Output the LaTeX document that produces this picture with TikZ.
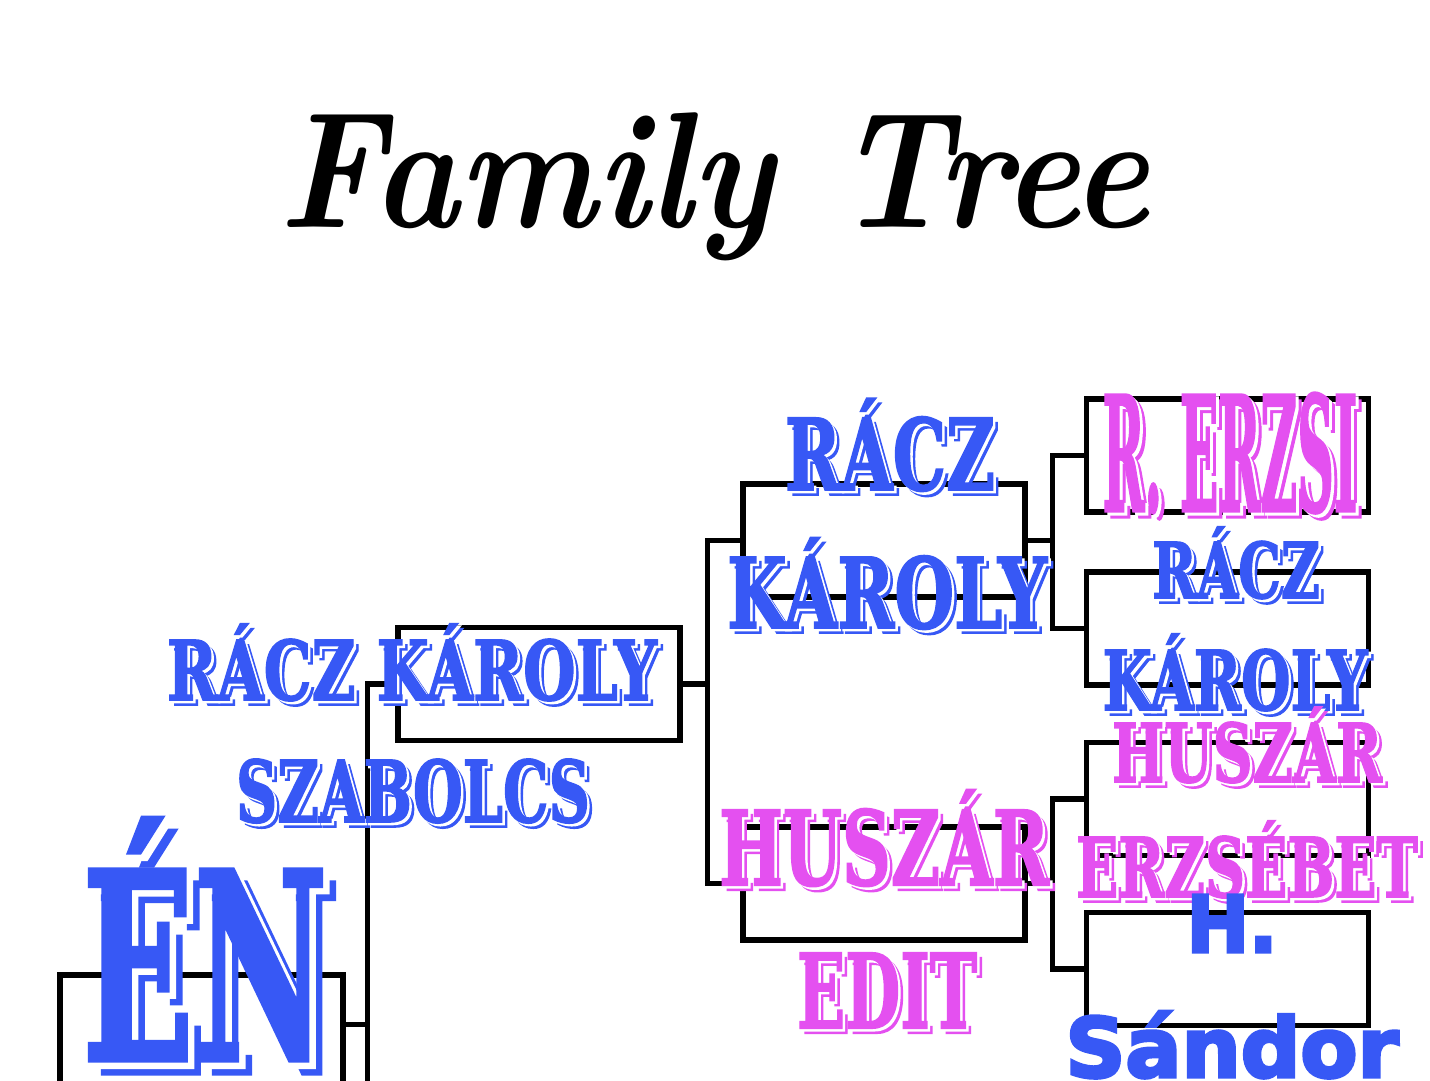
\documentclass[tikz,border=0pt]{standalone}
\usepackage{fontspec}
\usepackage{graphicx}
\usetikzlibrary{positioning,calc}
\definecolor{nameblue}{RGB}{55,88,245}
\definecolor{namepink}{RGB}{228,80,240}
\newfontfamily\namefont{DejaVu Serif}[BoldFeatures={FakeBold=2}]
\newfontfamily\plainfont{DejaVu Sans}[BoldFeatures={FakeBold=4}]
% colour, offset, content: shadow, white gap, letters
\newcommand{\shadowed}[3]{%
  \rlap{\hspace{#2}\raisebox{-#2}{\color{#1}#3}}%
  \rlap{\hspace{\dimexpr#2/2\relax}\raisebox{\dimexpr-#2/2\relax}{\color{white}#3}}%
  {\color{#1}#3}}
% width, cap height, text
\newcommand{\fitname}[3]{\resizebox{#1}{#2}{\smash{#3}\vphantom{X}}}

\begin{document}
\begin{tikzpicture}[
  famBox/.style={draw, line width=1.5pt, minimum width=2.82cm, minimum height=1.13cm, inner sep=0pt},
  link/.style={line width=1.5pt},
  nameLbl/.style={inner sep=0pt, anchor=base, font=\namefont\bfseries},
  sansLbl/.style={inner sep=0pt, anchor=base, font=\plainfont\bfseries, text=nameblue}
]
  \useasboundingbox (0,0) rectangle (14.3,10.8);
  \fill[white] (0,0) rectangle (14.3,10.8);
  \clip (0,0) rectangle (14.3,10.8);

  % Title
  \node[inner sep=0pt, anchor=base] (title) at (7.14,8.52) {\fitname{8.7cm}{1.13cm}{\bfseries\itshape Family Tree}};

  % Boxes
  \node[famBox, minimum width=2.83cm, minimum height=1.65cm] (me) at (2.015,0.225) {};
  \node[famBox] (fa) at (5.39,3.96) {};
  \node[famBox] (gf) at (8.84,5.395) {};
  \node[famBox] (gm) at (8.84,1.965) {};
  \node[famBox] (ggf1) at (12.275,6.245) {};
  \node[famBox] (ggf2) at (12.275,4.515) {};
  \node[famBox] (ggm1) at (12.275,2.81) {};
  \node[famBox] (ggm2) at (12.275,1.11) {};

  % Forks
  \coordinate (j0) at ($([yshift=-0.52cm]me.north east)+(0.22,0)$);
  \coordinate (mo) at (j0 |- 0,-0.5);
  \coordinate (j1) at ($(fa.east)+(0.25,0)$);
  \coordinate (j2) at ($(gf.east)+(0.25,0)$);
  \coordinate (j3) at ($(gm.east)+(0.25,0)$);

  % Links
  \draw[link] ([yshift=-0.52cm]me.north east) -- (j0);
  \draw[link] (fa.west) -| (mo);
  \draw[link] (fa.east) -- (j1);
  \draw[link] (gf.west) -| (j1) |- (gm.west);
  \draw[link] (gf.east) -- (j2);
  \draw[link] (ggf1.west) -| (j2) |- (ggf2.west);
  \draw[link] (gm.east) -- (j3);
  \draw[link] (ggm1.west) -| (j3) |- (ggm2.west);

  % Names
  \node[nameLbl] (me-l1) at (2.05,0.2) {\shadowed{nameblue}{0.13cm}{\fitname{2.45cm}{1.9cm}{ÉN}}};
  \node[nameLbl] (fa-l1) at (4.12,3.80) {\shadowed{nameblue}{0.05cm}{\fitname{4.9cm}{0.6cm}{RÁCZ KÁROLY}}};
  \node[nameLbl] (fa-l2) at (4.13,2.58) {\shadowed{nameblue}{0.05cm}{\fitname{3.54cm}{0.62cm}{SZABOLCS}}};
  \node[nameLbl] (gf-l1) at (8.90,5.90) {\shadowed{nameblue}{0.05cm}{\fitname{2.1cm}{0.72cm}{RÁCZ}}};
  \node[nameLbl] (gf-l2) at (8.87,4.52) {\shadowed{nameblue}{0.05cm}{\fitname{3.2cm}{0.71cm}{KÁROLY}}};
  \node[nameLbl] (gm-l1) at (8.84,1.95) {\shadowed{namepink}{0.05cm}{\fitname{3.3cm}{0.75cm}{HUSZÁR}}};
  \node[nameLbl] (gm-l2) at (8.87,0.52) {\shadowed{namepink}{0.05cm}{\fitname{1.8cm}{0.75cm}{EDIT}}};
  \node[nameLbl] (ggf1-l1) at (12.30,5.69) {\shadowed{namepink}{0.06cm}{\fitname{2.55cm}{1.16cm}{R. ERZSI}}};
  \node[nameLbl] (ggf2-l1) at (12.36,4.82) {\shadowed{nameblue}{0.05cm}{\fitname{1.68cm}{0.56cm}{RÁCZ}}};
  \node[nameLbl] (ggf2-l2) at (12.35,3.70) {\shadowed{nameblue}{0.05cm}{\fitname{2.65cm}{0.6cm}{KÁROLY}}};
  \node[nameLbl] (ggm1-l1) at (12.47,2.98) {\shadowed{namepink}{0.05cm}{\fitname{2.7cm}{0.59cm}{HUSZÁR}}};
  \node[nameLbl] (ggm1-l2) at (12.47,1.83) {\shadowed{namepink}{0.05cm}{\fitname{3.42cm}{0.6cm}{ERZSÉBET}}};
  \node[sansLbl] (ggm2-l1) at (12.32,1.28) {\fitname{0.91cm}{0.57cm}{H.}};
  \node[sansLbl] (ggm2-l2) at (12.32,0.03) {\fitname{3.33cm}{0.6cm}{Sándor}};
\end{tikzpicture}
\end{document}
